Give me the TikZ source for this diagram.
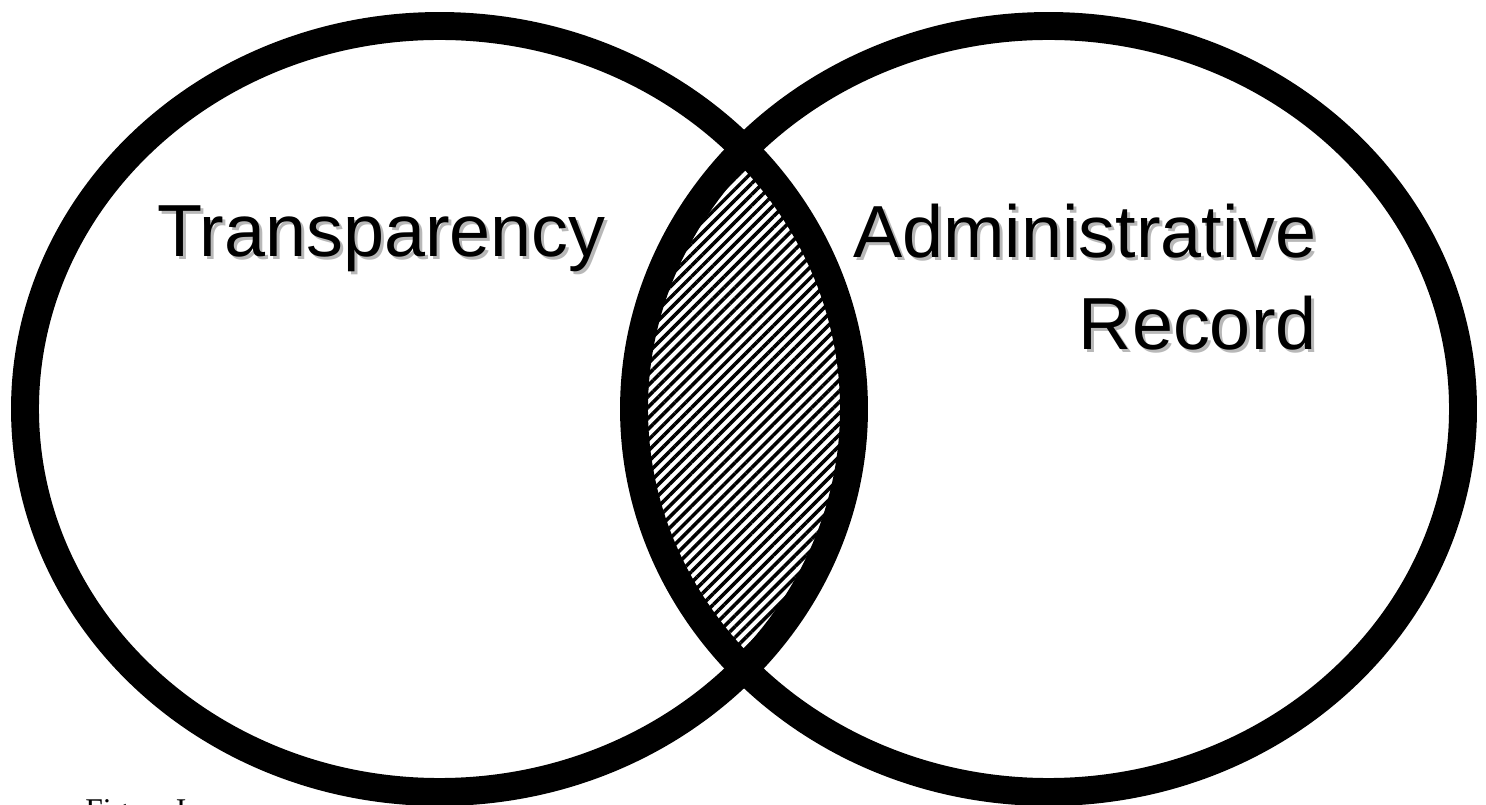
\documentclass[tikz,border=0pt]{standalone}
\usepackage{xcolor}
\usepackage{fontspec}
\setmainfont{Liberation Serif}
\setsansfont{Liberation Sans}
\usepackage{tikz}
\usetikzlibrary{patterns.meta,positioning}
\newcommand{\shadowtxt}[1]{\makebox[0pt][l]{\hspace{1.7pt}\raisebox{-1.7pt}{\textcolor{black!28}{#1}}}#1}

\begin{document}
\begin{tikzpicture}[x=0.02cm,y=0.02cm,
  ring/.style={draw=black,line width=15.9pt},
  hatch/.style={pattern={Lines[angle=45,distance=4.4pt,line width=2pt]}},
  setlabel/.style={inner sep=0pt,font=\sffamily\fontsize{42}{49}\selectfont},
  caption/.style={inner sep=0pt,font=\rmfamily\fontsize{18}{21}\selectfont}
]
\useasboundingbox (0,0) rectangle (1486,804);
\fill[white] (0,0) rectangle (1486,804);
% overlap of the two sets
\begin{scope}
  \clip (439.5,395) ellipse [x radius=414.5,y radius=383];
  \fill[hatch] (1048.5,395) ellipse [x radius=414.5,y radius=383];
\end{scope}
\draw[ring] (439.5,395) ellipse [x radius=414.5,y radius=383];
\draw[ring] (1048.5,395) ellipse [x radius=414.5,y radius=383];
\node[setlabel,anchor=base west] (transp) at (157,547) {\shadowtxt{Transparency}};
\node[setlabel,anchor=base east] (admin) at (1317,546) {\shadowtxt{Administrative}};
\node[setlabel,anchor=base east] (record) at (1317,454) {\shadowtxt{Record}};
\node[caption,anchor=base west] (fig) at (85,-16) {Figure I};
\end{tikzpicture}
\end{document}
